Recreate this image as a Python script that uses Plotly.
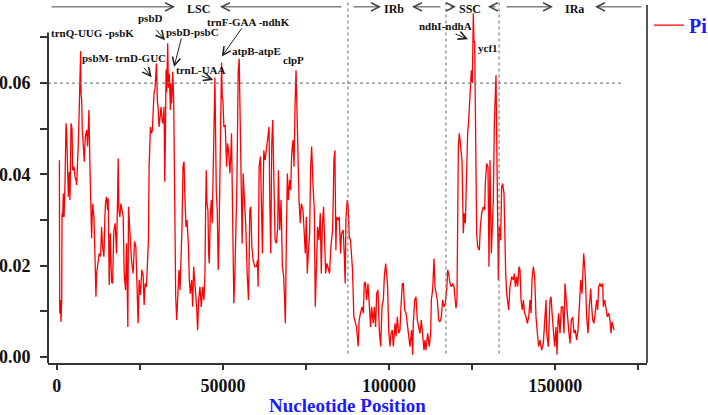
import plotly.graph_objects as go

# ---------------- data ----------------
positions = [
    800, 900, 1100, 1300, 1500, 1600, 1800, 2000, 2200, 2500,
    2800, 3000, 3300, 3500, 3800, 4000, 4300, 4600, 4800, 5200,
    5500, 5800, 6000, 6300, 6500, 6700, 6900, 7200, 7300, 7500,
    7700, 8000, 8300, 8600, 9000, 9300, 9700, 10000, 10200, 10500,
    10800, 11200, 11500, 11800, 12000, 12200, 12500, 12800, 13200, 13500,
    13800, 14200, 14500, 14700, 15000, 15300, 15500, 15800, 16100, 16300,
    16500, 16800, 17000, 17200, 17600, 18000, 18300, 18500, 18700, 19000,
    19300, 19700, 20000, 20300, 20700, 21000, 21200, 21400, 21600, 22000,
    22300, 22500, 23000, 23400, 23800, 24000, 24200, 24500, 24800, 25200,
    25600, 26000, 26300, 26600, 27000, 27400, 27600, 27800, 28000, 28200,
    28500, 28800, 29000, 29300, 29600, 30000, 30300, 30500, 30800, 31100,
    31400, 31700, 32000, 32300, 32500, 32700, 32900, 33100, 33400, 33600,
    33900, 34200, 34300, 34600, 34900, 35200, 35400, 35600, 35800, 36100,
    36400, 36800, 37100, 37400, 37700, 38000, 38300, 38600, 38900, 39200,
    39600, 39900, 40200, 40600, 40900, 41200, 41500, 41800, 42100, 42400,
    42700, 43100, 43500, 43900, 44300, 44600, 44800, 45000, 45200, 45500,
    45700, 45900, 46200, 46500, 46800, 47100, 47400, 47600, 47800, 48000,
    48300, 48600, 48800, 49000, 49200, 49400, 49600, 49800, 50000, 50300,
    50700, 51100, 51400, 51700, 52100, 52400, 52600, 52900, 53100, 53300,
    53600, 53900, 54200, 54400, 54600, 54900, 55100, 55300, 55500, 55800,
    56100, 56500, 56900, 57300, 57700, 57900, 58100, 58400, 58700, 59100,
    59600, 60100, 60400, 60600, 60900, 61300, 61600, 61900, 62100, 62300,
    62700, 63100, 63500, 63900, 64100, 64400, 64700, 65000, 65300, 65700,
    66100, 66500, 66700, 67100, 67500, 67900, 68300, 68600, 68800, 69100,
    69400, 69700, 70100, 70400, 70700, 71100, 71400, 71700, 72000, 72200,
    72400, 72600, 72900, 73300, 73600, 74100, 74400, 74800, 75100, 75400,
    75700, 76100, 76400, 76700, 77100, 77500, 77800, 78100, 78500, 78900,
    79300, 79600, 79900, 80300, 80700, 80900, 81300, 81700, 82100, 82500,
    83000, 83200, 83400, 83700, 84000, 84200, 84700, 85000, 85400, 85700,
    86200, 86500, 86800, 87000, 87400, 87700, 88000, 88400, 88700, 89000,
    89400, 89700, 90200, 90700, 91000, 91400, 91850, 92250, 92550, 92850,
    93250, 93650, 94050, 94450, 94750, 95250, 95560, 95960, 96260, 96660,
    97060, 97470, 97870, 98270, 98570, 98970, 99270, 99570, 99870, 100270,
    100570, 100970, 101280, 101780, 102080, 102480, 102880, 103280, 103580, 103990,
    104290, 104690, 105090, 105490, 105890, 106290, 106790, 107100, 107290, 107700,
    108100, 108500, 108900, 109300, 109700, 110100, 110500, 110800, 111100, 111610,
    112110, 112510, 112710, 113110, 113510, 113810, 114110, 114520, 114920, 115320,
    115720, 116120, 116520, 116920, 117330, 117630, 117930, 118330, 118730, 119130,
    119530, 119830, 120130, 120430, 120530, 120840, 121140, 121540, 121940, 122340,
    122640, 122940, 123340, 123640, 123950, 124350, 124750, 125050, 125350, 125550,
    125750, 125950, 126150, 126350, 126650, 127150, 127460, 127860, 128360, 128760,
    128960, 129360, 129760, 130060, 130360, 130760, 131070, 131370, 131670, 131870,
    132170, 132370, 132570, 132870, 133170, 133570, 133870, 134180, 134580, 134780,
    135080, 135380, 135680, 135980, 136380, 136880, 137390, 137690, 137990, 138390,
    138690, 139090, 139390, 139690, 140090, 140390, 140800, 141200, 141600, 142000,
    142400, 142700, 143000, 143400, 143800, 144210, 144610, 145010, 145410, 145910,
    146410, 146910, 147220, 147420, 147920, 148420, 148720, 149120, 149420, 149820,
    150220, 150530, 150830, 151030, 151430, 151830, 152230, 152630, 152930, 153230,
    153630, 154040, 154440, 154840, 155240, 155640, 156040, 156440, 156840, 157240,
    157650, 158050, 158350, 158550, 158850, 159050, 159450, 159850, 160250, 160660,
    160960, 161260, 161660, 162060, 162460, 162760, 163060, 163460, 163860, 164270,
    164470, 164870, 165270, 165670, 166070, 166470, 166770, 167070, 167480, 167680,
]

pi_values = [
    0.0431, 0.0096, 0.0125, 0.0077, 0.0125, 0.0315, 0.0307, 0.0358, 0.0307, 0.0380,
    0.0512, 0.0490, 0.0417, 0.0351, 0.0406, 0.0344, 0.0512, 0.0501, 0.0409, 0.0417,
    0.0395, 0.0388, 0.0377, 0.0417, 0.0468, 0.0519, 0.0570, 0.0670, 0.0580, 0.0563,
    0.0497, 0.0461, 0.0428, 0.0482, 0.0497, 0.0461, 0.0541, 0.0417, 0.0329, 0.0260,
    0.0336, 0.0307, 0.0227, 0.0132, 0.0183, 0.0198, 0.0205, 0.0227, 0.0220, 0.0285,
    0.0242, 0.0220, 0.0307, 0.0340, 0.0351, 0.0322, 0.0347, 0.0158, 0.0271, 0.0212,
    0.0165, 0.0161, 0.0220, 0.0278, 0.0293, 0.0227, 0.0344, 0.0435, 0.0322, 0.0307,
    0.0336, 0.0315, 0.0307, 0.0183, 0.0147, 0.0249, 0.0154, 0.0066, 0.0329, 0.0278,
    0.0242, 0.0212, 0.0183, 0.0253, 0.0242, 0.0183, 0.0125, 0.0074, 0.0169, 0.0136,
    0.0191, 0.0180, 0.0114, 0.0161, 0.0154, 0.0212, 0.0256, 0.0417, 0.0501, 0.0504,
    0.0490, 0.0497, 0.0534, 0.0580, 0.0588, 0.0643, 0.0560, 0.0548, 0.0504, 0.0534,
    0.0548, 0.0519, 0.0512, 0.0548, 0.0384, 0.0475, 0.0630, 0.0580, 0.0687, 0.0590,
    0.0620, 0.0541, 0.0600, 0.0556, 0.0625, 0.0563, 0.0399, 0.0271, 0.0132, 0.0081,
    0.0125, 0.0191, 0.0147, 0.0198, 0.0285, 0.0417, 0.0428, 0.0344, 0.0285, 0.0300,
    0.0249, 0.0169, 0.0139, 0.0169, 0.0110, 0.0198, 0.0154, 0.0139, 0.0110, 0.0059,
    0.0125, 0.0154, 0.0110, 0.0154, 0.0125, 0.0183, 0.0322, 0.0409, 0.0336, 0.0322,
    0.0227, 0.0205, 0.0307, 0.0344, 0.0293, 0.0395, 0.0490, 0.0612, 0.0490, 0.0366,
    0.0322, 0.0191, 0.0242, 0.0366, 0.0519, 0.0570, 0.0645, 0.0570, 0.0563, 0.0504,
    0.0508, 0.0417, 0.0468, 0.0453, 0.0402, 0.0446, 0.0490, 0.0322, 0.0212, 0.0118,
    0.0183, 0.0264, 0.0373, 0.0490, 0.0625, 0.0654, 0.0563, 0.0453, 0.0322, 0.0249,
    0.0402, 0.0344, 0.0285, 0.0183, 0.0125, 0.0212, 0.0322, 0.0329, 0.0242, 0.0212,
    0.0198, 0.0198, 0.0212, 0.0154, 0.0417, 0.0439, 0.0358, 0.0227, 0.0344, 0.0453,
    0.0431, 0.0453, 0.0482, 0.0504, 0.0344, 0.0227, 0.0468, 0.0519, 0.0402, 0.0256,
    0.0249, 0.0285, 0.0409, 0.0278, 0.0344, 0.0198, 0.0176, 0.0096, 0.0074, 0.0264,
    0.0402, 0.0344, 0.0388, 0.0366, 0.0446, 0.0475, 0.0417, 0.0548, 0.0628, 0.0570,
    0.0490, 0.0446, 0.0344, 0.0293, 0.0336, 0.0322, 0.0264, 0.0227, 0.0307, 0.0183,
    0.0227, 0.0271, 0.0417, 0.0461, 0.0380, 0.0322, 0.0110, 0.0198, 0.0285, 0.0256,
    0.0315, 0.0183, 0.0285, 0.0329, 0.0220, 0.0183, 0.0205, 0.0191, 0.0183, 0.0242,
    0.0278, 0.0344, 0.0431, 0.0453, 0.0234, 0.0307, 0.0300, 0.0307, 0.0227, 0.0271,
    0.0278, 0.0227, 0.0161, 0.0300, 0.0344, 0.0329, 0.0264, 0.0256, 0.0212, 0.0191,
    0.0088, 0.0081, 0.0066, 0.0023, 0.0081, 0.0096, 0.0110, 0.0096, 0.0161, 0.0165,
    0.0125, 0.0161, 0.0110, 0.0066, 0.0110, 0.0074, 0.0110, 0.0066, 0.0139, 0.0147,
    0.0059, 0.0023, 0.0110, 0.0125, 0.0176, 0.0205, 0.0183, 0.0154, 0.0059, 0.0023,
    0.0052, 0.0059, 0.0023, 0.0074, 0.0045, 0.0088, 0.0052, 0.0059, 0.0110, 0.0161,
    0.0161, 0.0103, 0.0096, 0.0074, 0.0052, 0.0023, 0.0059, 0.0005, 0.0074, 0.0125,
    0.0132, 0.0081, 0.0066, 0.0052, 0.0081, 0.0052, 0.0015, 0.0037, 0.0015, 0.0052,
    0.0023, 0.0052, 0.0125, 0.0147, 0.0216, 0.0154, 0.0139, 0.0125, 0.0081, 0.0077,
    0.0088, 0.0125, 0.0110, 0.0118, 0.0147, 0.0191, 0.0183, 0.0161, 0.0154, 0.0161,
    0.0154, 0.0118, 0.0107, 0.0125, 0.0264, 0.0461, 0.0490, 0.0461, 0.0431, 0.0271,
    0.0315, 0.0293, 0.0431, 0.0490, 0.0519, 0.0563, 0.0628, 0.0600, 0.0753, 0.0690,
    0.0690, 0.0550, 0.0358, 0.0271, 0.0242, 0.0234, 0.0285, 0.0315, 0.0329, 0.0322,
    0.0380, 0.0424, 0.0417, 0.0198, 0.0431, 0.0227, 0.0285, 0.0344, 0.0512, 0.0563,
    0.0617, 0.0490, 0.0344, 0.0169, 0.0285, 0.0256, 0.0373, 0.0380, 0.0358, 0.0234,
    0.0183, 0.0139, 0.0118, 0.0103, 0.0154, 0.0176, 0.0169, 0.0183, 0.0154, 0.0176,
    0.0154, 0.0198, 0.0191, 0.0125, 0.0103, 0.0125, 0.0096, 0.0088, 0.0074, 0.0088,
    0.0125, 0.0096, 0.0169, 0.0198, 0.0176, 0.0088, 0.0052, 0.0023, 0.0037, 0.0015,
    0.0030, 0.0081, 0.0125, 0.0052, 0.0023, 0.0125, 0.0132, 0.0088, 0.0052, 0.0023,
    0.0066, 0.0005, 0.0081, 0.0096, 0.0052, 0.0110, 0.0110, 0.0052, 0.0161, 0.0139,
    0.0096, 0.0059, 0.0030, 0.0081, 0.0088, 0.0052, 0.0059, 0.0037, 0.0059, 0.0110,
    0.0169, 0.0139, 0.0198, 0.0227, 0.0198, 0.0176, 0.0088, 0.0052, 0.0110, 0.0150,
    0.0110, 0.0081, 0.0074, 0.0096, 0.0125, 0.0103, 0.0154, 0.0161, 0.0154, 0.0161,
    0.0110, 0.0125, 0.0110, 0.0088, 0.0096, 0.0081, 0.0052, 0.0077, 0.0066, 0.0059,
]
assert len(positions) == len(pi_values)

region_boundaries = [87600, 117100, 133100]
pi_threshold = 0.06

x_tick_values = [0, 25000, 50000, 75000, 100000, 125000, 150000, 175000]
x_tick_labels = ["0", "", "50000", "", "100000", "", "150000", ""]
y_tick_values = [0.00, 0.01, 0.02, 0.03, 0.04, 0.05, 0.06, 0.07]
y_tick_labels = ["0.00", "", "0.02", "", "0.04", "", "0.06", ""]

# hotspot labels: (text, label_x, label_y)
hotspot_labels = [
    ("trnQ-UUG -psbK", 10620, 0.0709),
    ("psbM- trnD-GUC", 20250, 0.0655),
    ("psbD", 28220, 0.0742),
    ("psbD-psbC", 41000, 0.0712),
    ("trnL-UAA", 43410, 0.0628),
    ("trnF-GAA -ndhK", 57850, 0.0733),
    ("atpB-atpE", 59960, 0.0670),
    ("clpP", 71390, 0.0650),
    ("ndhI-ndhA", 117120, 0.0725),
    ("ycf1", 129760, 0.0677),
]
# pointer arrows: (tail_x, tail_y, head_x, head_y)
hotspot_arrows = [
    (25870, 0.0637, 28580, 0.0613),
    (29570, 0.0720, 32580, 0.0694),
    (37610, 0.0701, 35290, 0.0635),
    (43110, 0.0617, 47110, 0.0607),
    (55960, 0.0723, 49640, 0.0658),
    (119530, 0.0709, 123740, 0.0696),
]
# region names with centre positions
region_labels = [("LSC", 42510), ("IRb", 101540), ("SSC", 124340), ("IRa", 155930)]
# region span arrows: (tail_x, head_x)
region_arrows = [
    (-2000, 35590), (86130, 49130),
    (88840, 97560), (115900, 106900),
    (118020, 120130), (132460, 129750),
    (134870, 149310), (176400, 161950),
]

X_RANGE = [-2620, 177600]
Y_RANGE = [-0.0013, 0.0782]
ARROW_Y = 0.0767
LABEL_Y = 0.0763
FONT = "Liberation Serif, Times New Roman, serif"

fig = go.Figure()
fig.add_trace(go.Scatter(
    x=positions, y=pi_values, mode="lines", name="Pi",
    line=dict(color="#ff0000", width=1.3),
))

shapes = []
# threshold line
shapes.append(dict(type="line", xref="x", yref="y", x0=X_RANGE[0], x1=170500,
                   y0=pi_threshold, y1=pi_threshold,
                   line=dict(color="#808080", width=1.2, dash="dot")))
for b in region_boundaries:
    shapes.append(dict(type="line", xref="x", yref="y", x0=b, x1=b,
                       y0=0.0008, y1=Y_RANGE[1],
                       line=dict(color="#808080", width=1.2, dash="dot")))
# left axis line (stops a little above 0.07) and right frame line
shapes.append(dict(type="line", xref="paper", yref="y", x0=0, x1=0,
                   y0=Y_RANGE[0], y1=0.0711, line=dict(color="#333333", width=2)))
shapes.append(dict(type="line", xref="paper", yref="y", x0=1, x1=1,
                   y0=Y_RANGE[0], y1=0.0771, line=dict(color="#555555", width=2)))

annotations = []
for text, lx, ly in hotspot_labels:
    annotations.append(dict(x=lx, y=ly, xref="x", yref="y", text=text, showarrow=False,
                            font=dict(family=FONT, size=11, color="#111111", weight="bold")))
for tx, ty, hx, hy in hotspot_arrows:
    annotations.append(dict(x=hx, y=hy, ax=tx, ay=ty, xref="x", yref="y", axref="x", ayref="y",
                            text="", showarrow=True, arrowhead=5, arrowsize=1.6,
                            arrowwidth=1, arrowcolor="#222222", standoff=0, startstandoff=0))
for text, cx in region_labels:
    annotations.append(dict(x=cx, y=LABEL_Y, xref="x", yref="y", text=text, showarrow=False,
                            borderpad=0,
                            font=dict(family=FONT, size=12, color="#111111", weight="bold")))
for tx, hx in region_arrows:
    annotations.append(dict(x=hx, y=ARROW_Y, ax=tx, ay=ARROW_Y, xref="x", yref="y", axref="x", ayref="y",
                            text="", showarrow=True, arrowhead=5, arrowsize=1.6,
                            arrowwidth=1, arrowcolor="#444444", standoff=0, startstandoff=0))
# x axis title
annotations.append(dict(x=0.5, y=0, xref="paper", yref="paper", yanchor="middle", yshift=-42,
                        text="Nucleotide Position", showarrow=False, borderpad=0,
                        font=dict(family=FONT, size=19, color="#1a1aff", weight="bold")))

fig.update_layout(
    width=708, height=415,
    margin=dict(l=48, r=61, t=0, b=52, autoexpand=False),
    paper_bgcolor="white", plot_bgcolor="white",
    font=dict(family=FONT),
    shapes=shapes, annotations=annotations,
    showlegend=True,
    legend=dict(x=1.0033, y=0.931, xanchor="left", yanchor="middle",
                bgcolor="rgba(0,0,0,0)", borderwidth=0,
                font=dict(family=FONT, size=20, color="#1a1aff", weight="bold")),
    xaxis=dict(range=X_RANGE, showgrid=False, zeroline=False,
               showline=True, linecolor="#333333", linewidth=2,
               ticks="outside", ticklen=5, tickwidth=1.5, tickcolor="#333333",
               tickmode="array", tickvals=x_tick_values, ticktext=x_tick_labels,
               tickfont=dict(family=FONT, size=18, color="#111111", weight="bold")),
    yaxis=dict(range=Y_RANGE, showgrid=False, zeroline=False, showline=False,
               ticks="outside", ticklen=7, tickwidth=1.5, tickcolor="#333333",
               tickmode="array", tickvals=y_tick_values, ticktext=y_tick_labels,
               ticklabelstandoff=6,
               tickfont=dict(family=FONT, size=18, color="#111111", weight="bold")),
)

fig.write_html("out.html")
